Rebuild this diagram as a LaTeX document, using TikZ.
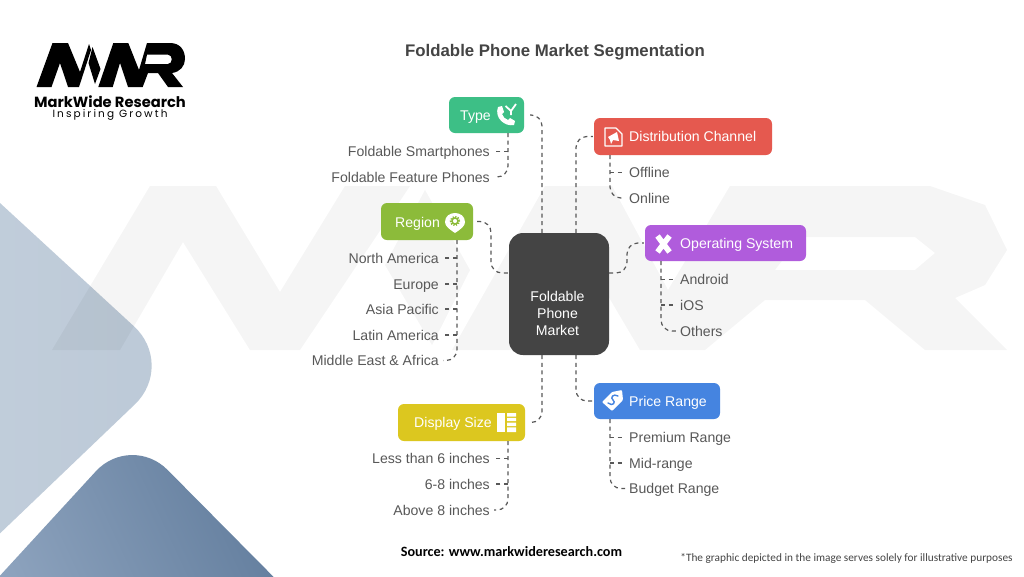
\documentclass[tikz,border=0pt]{standalone}
\usepackage{fontspec}
\setmainfont{Liberation Sans}
\newfontfamily\popf{Poppins}
\newfontfamily\carl{Carlito}
\definecolor{ctype}{HTML}{3DBF86}
\definecolor{cregion}{HTML}{8CBB3A}
\definecolor{cdist}{HTML}{E5594F}
\definecolor{cos}{HTML}{B05CDC}
\definecolor{cdisp}{HTML}{DCC71F}
\definecolor{cprice}{HTML}{4584E0}
\definecolor{ccenter}{HTML}{444444}
\definecolor{ctext}{HTML}{585858}
\definecolor{sa}{HTML}{C3CFDC}
\definecolor{sb}{HTML}{BCC9D7}
\definecolor{sc}{HTML}{93A8C2}
\definecolor{sd}{HTML}{5A7697}
\tikzset{
  x=1pt,y=-1pt,
  box/.style={fill=#1,draw=none,rounded corners=6pt,inner sep=0pt},
  boxtext/.style={text=white,font=\fontsize{14.1}{16}\selectfont,inner sep=0pt,text height=11pt,text depth=1pt},
  labl/.style={text=ctext,font=\fontsize{14.1}{16}\selectfont,inner ysep=0pt,inner xsep=4pt,text height=11pt,text depth=1pt},
  conn/.style={draw=ctext,line width=1.2pt,dash pattern=on 4pt off 3.6pt,rounded corners=11pt},
  branch/.style={draw=ctext,line width=1.2pt,dash pattern=on 4pt off 3.6pt},
  wmark/.style={fill=black,opacity=0.04},
}
\begin{document}
\begin{tikzpicture}
\useasboundingbox (0,0) rectangle (1024,576);
\clip (0,0) rectangle (1024,576);
\fill[white] (0,0) rectangle (1024,576);
% corner shapes
\shade[left color=sa,right color=sb,rounded corners=57pt] (-100,111) -- (176,365) -- (-100,629) -- cycle;
\shade[left color=sc,right color=sd,shading angle=115,rounded corners=52pt] (-60,641) -- (131,433) -- (350,654) -- cycle;
% watermark
\path[wmark] (52,350) -- (150,186) -- (216,186) -- (280,292) -- (345,186) -- (410,186) -- (300,350) -- (250,350) -- (183,242) -- (120,350) -- cycle;
\path[wmark] (425,190) -- (470,270) -- (432,345) -- (385,265) -- cycle;
\path[wmark,even odd rule] (452,350) -- (545,186) -- (612,186) -- (668,290) -- (730,186) -- (930,186) -- (985,205) -- (1007,250) -- (985,285) -- (955,298) -- (1007,350) -- (925,350) -- (865,300) -- (765,300) -- (705,350) -- (640,350) -- (578,245) -- (520,350) -- cycle
  (800,237) -- (915,237) -- (935,253) -- (915,270) -- (775,270) -- cycle;
% logo
\fill[black] (36.5,87) -- (52.5,43) -- (68,43) -- (80,72) -- (89,44) -- (91,50) -- (79,87) -- (68,87) -- (60,63) -- (51.5,87) -- cycle;
\fill[black] (92.5,47) -- (100.5,69) -- (95,84) -- (88.5,63) -- cycle;
\fill[black,even odd rule] (98.3,87) -- (113.3,43) -- (128.3,43) -- (139,70) -- (147,43) -- (170,43) .. controls (180,43) and (185,50) .. (185,59) .. controls (185,66) and (180,72) .. (172,73) -- (183,87) -- (168,87) -- (158,73) -- (148,73) -- (142.7,87) -- (128,87) -- (120,63) -- (112.7,87) -- cycle
  (147,54.7) -- (168,54.7) .. controls (173,54.7) and (173,64) .. (168,64) -- (145,64) -- cycle;
\node[inner sep=0pt,font=\popf\bfseries\fontsize{14.7}{15}\selectfont] (lg1) at (110,101.5) {MarkWide Research};
\node[inner sep=0pt,font=\popf\fontsize{10.5}{12}\selectfont] (lg2) at (110,115) {\addfontfeature{LetterSpace=20}Inspiring Growth};
% title etc
\node[inner sep=0pt,text=ccenter,font=\bfseries\fontsize{16.8}{20}\selectfont] (title) at (555,52) {Foldable Phone Market Segmentation};
\node[inner sep=0pt,font=\carl\bfseries\fontsize{14.2}{16}\selectfont] (src) at (511.5,551.5) {Source: www.markwideresearch.com};
\node[inner sep=0pt,text=ccenter,font=\carl\fontsize{11.3}{13}\selectfont] (note) at (846.5,558) {*The graphic depicted in the image serves solely for illustrative purposes};
% boxes
\node[box=ccenter,rounded corners=14pt,minimum width=100pt,minimum height=122pt] (center) at (559,294) {};
\node[text=white,font=\fontsize{14.1}{17}\selectfont,align=center,inner sep=0pt] (centert) at (557.5,313.5) {Foldable\\Phone\\Market};
\node[box=ctype,minimum width=75pt,minimum height=36pt] (type) at (486.5,115) {};
\node[box=cregion,minimum width=92pt,minimum height=37pt] (region) at (427,221.5) {};
\node[box=cdist,minimum width=178pt,minimum height=37pt] (dist) at (683,136.5) {};
\node[box=cos,minimum width=161pt,minimum height=36pt] (os) at (725.5,243) {};
\node[box=cdisp,minimum width=127pt,minimum height=37pt] (disp) at (461.5,422.5) {};
\node[box=cprice,minimum width=126pt,minimum height=36pt] (price) at (657,401) {};
\node[boxtext,anchor=west] (typet) at (460,115) {Type};
\node[boxtext,anchor=west] (regiont) at (395,222) {Region};
\node[boxtext,anchor=west] (distt) at (629,136.5) {Distribution Channel};
\node[boxtext,anchor=west] (ost) at (680,243) {Operating System};
\node[boxtext,anchor=west] (dispt) at (414,422.5) {Display Size};
\node[boxtext,anchor=west] (pricet) at (629,401) {Price Range};
% icons
\fill[white] (498,107) -- (502,106) -- (504,112) -- (502,114) .. controls (503,117) and (505,119) .. (508,120) -- (510,118) -- (515,121) -- (514,125) .. controls (505,127) and (494,118) .. (498,107) -- cycle;
\draw[white,line width=1.8pt] (505.5,106) -- (511,111) -- (516,104) (511,111) -- (511,115);
\fill[white] (455,233) .. controls (449,229) and (445,226) .. (445,222) .. controls (445,216) and (450,213) .. (455,213) .. controls (460,213) and (465,216) .. (465,222) .. controls (465,226) and (461,229) .. (455,233) -- cycle;
\draw[cregion,line width=2.4pt,dash pattern=on 1.2pt off 1.2pt] (455,221) circle[radius=4pt];
\draw[cregion,line width=1.5pt] (455,221) circle[radius=3pt];
\draw[white,line width=1.2pt,line join=round] (605,128) -- (616,128) -- (622,134) -- (622,146) -- (605,146) -- cycle;
\fill[white] (608,137) -- (617,132) -- (619,141) -- (613,140) -- (611,144) -- (610,140) -- cycle;
\draw[white,line width=5.5pt] (657.5,236) -- (669.5,252) (669.5,236) -- (657.5,252);
\fill[white] (497,413) rectangle (505,432);
\fill[white] (507,413) rectangle (516,416.5) (507,417.9) rectangle (516,421.2) (507,422.6) rectangle (516,426) (507,427.4) rectangle (516,432);
\fill[white,rounded corners=1pt] (612,392) -- (622,390) -- (623,400) -- (612,411) -- (602,402) -- cycle;
\draw[cprice,line width=1.4pt,line cap=round] (618,396) .. controls (613,393) and (610,398) .. (613,400) .. controls (616,402) and (613,407) .. (608,403);
% labels
\node[labl,anchor=east] (t1) at (494,151.5) {Foldable Smartphones};
\node[labl,anchor=east] (t2) at (494,177) {Foldable Feature Phones};
\node[labl,anchor=east] (r1) at (443,258) {North America};
\node[labl,anchor=east] (r2) at (443,284) {Europe};
\node[labl,anchor=east] (r3) at (443,309) {Asia Pacific};
\node[labl,anchor=east] (r4) at (443,335) {Latin America};
\node[labl,anchor=east] (r5) at (443,360.5) {Middle East \& Africa};
\node[labl,anchor=east] (d1) at (494,458.5) {Less than 6 inches};
\node[labl,anchor=east] (d2) at (494,484) {6-8 inches};
\node[labl,anchor=east] (d3) at (494,510) {Above 8 inches};
\node[labl,anchor=west] (c1) at (625,172.5) {Offline};
\node[labl,anchor=west] (c2) at (625,198) {Online};
\node[labl,anchor=west] (o1) at (676,279.5) {Android};
\node[labl,anchor=west] (o2) at (676,305) {iOS};
\node[labl,anchor=west] (o3) at (676,331) {Others};
\node[labl,anchor=west] (p1) at (625,437.5) {Premium Range};
\node[labl,anchor=west] (p2) at (625,463) {Mid-range};
\node[labl,anchor=west] (p3) at (625,488.5) {Budget Range};
% bus coordinates
\coordinate (tb) at (508,133);
\coordinate (rb) at (457,240);
\coordinate (db) at (508,441);
\coordinate (cb) at (610,155);
\coordinate (ob) at (661,261);
\coordinate (pb) at (610,419);
\coordinate (rbend) at (491,273);
\coordinate (obend) at (627,273);
% centre connectors
\draw[conn,shorten >=6pt] ([xshift=-17pt]center.north) |- (type.east);
\draw[conn,shorten >=1pt] ([xshift=17pt]center.north) |- (dist.west);
\draw[conn,shorten >=6pt] ([xshift=-17pt]center.south) |- (disp.east);
\draw[conn,shorten >=1pt] ([xshift=17pt]center.south) |- (price.west);
\draw[conn,shorten <=4pt] (region.east) -| (rbend) -- (center.west |- rbend);
\draw[conn,shorten >=1pt] (center.east |- obend) -- (obend) |- (os.west);
% group connectors
\draw[conn] (tb) |- (t2.east);
\draw[branch] (tb |- t1) -- (t1.east);
\draw[conn] (rb) |- (r5.east);
\foreach \n in {r1,r2,r3,r4} \draw[branch] (rb |- \n) -- (\n.east);
\draw[conn] (db) |- (d3.east);
\foreach \n in {d1,d2} \draw[branch] (db |- \n) -- (\n.east);
\draw[conn] (cb) |- (c2.west);
\draw[branch] (cb |- c1) -- (c1.west);
\draw[conn] (ob) |- (o3.west);
\foreach \n in {o1,o2} \draw[branch] (ob |- \n) -- (\n.west);
\draw[conn] (pb) |- (p3.west);
\foreach \n in {p1,p2} \draw[branch] (pb |- \n) -- (\n.west);
\end{tikzpicture}
\end{document}
